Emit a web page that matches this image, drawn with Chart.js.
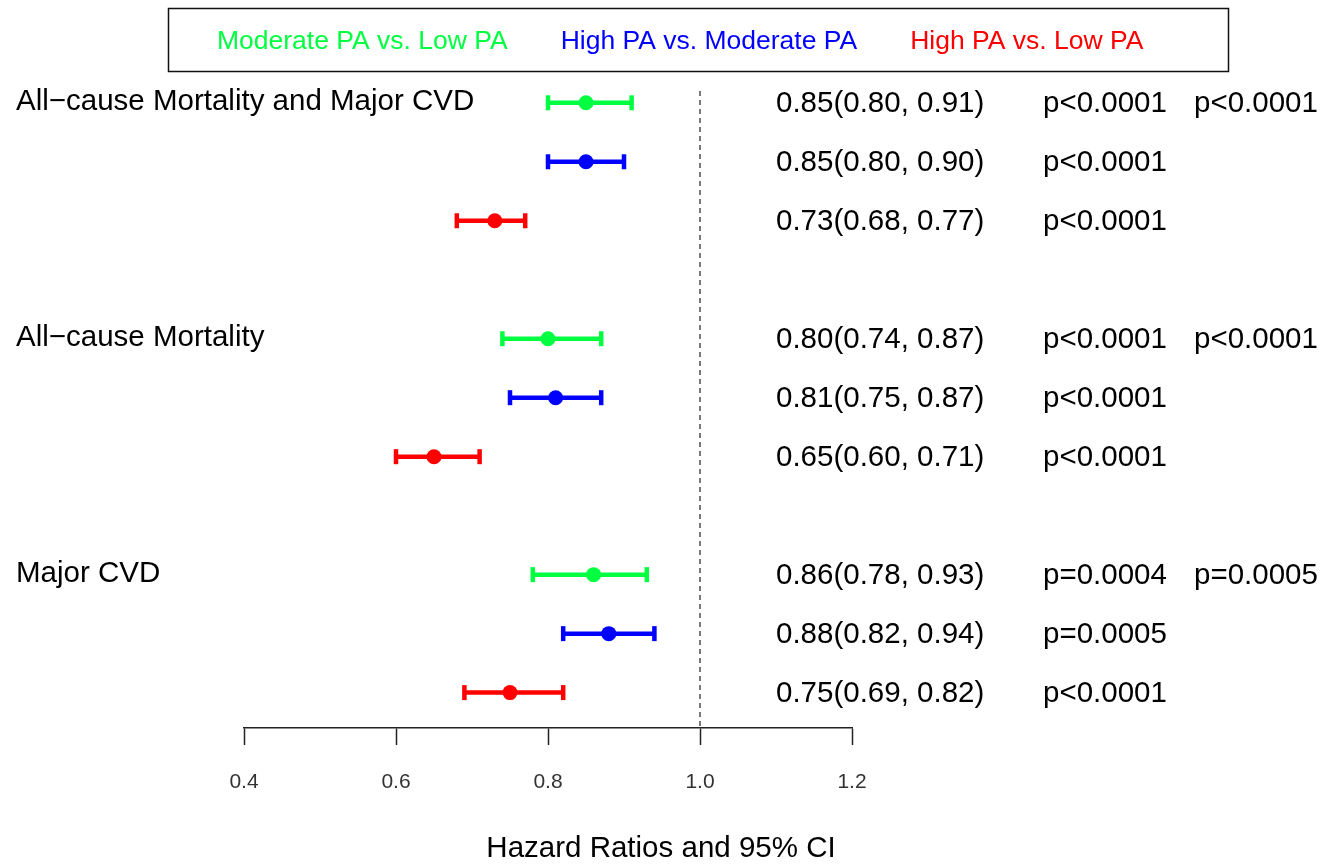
<!DOCTYPE html>
<html>
<head>
<meta charset="utf-8">
<script src="https://cdn.jsdelivr.net/npm/chart.js@4.4.1/dist/chart.umd.min.js"></script>
<style>
  body { margin: 0; background: #fff; }
  #wrap { width: 1323px; height: 864px; position: relative; }
</style>
</head>
<body>
<div id="wrap"><canvas id="forest"></canvas></div>
<script>
const outcomes = ['All\u2212cause Mortality and Major CVD', 'All\u2212cause Mortality', 'Major CVD'];
const comparisons = ['Moderate PA vs. Low PA', 'High PA vs. Moderate PA', 'High PA vs. Low PA'];
const colors = ['#00ff40', '#0000ff', '#ff0000'];

// one entry per row: 3 outcomes x 3 comparisons
const hr    = [0.85, 0.85, 0.73, 0.80, 0.81, 0.65, 0.86, 0.88, 0.75];
const lower = [0.80, 0.80, 0.68, 0.74, 0.75, 0.60, 0.78, 0.82, 0.69];
const upper = [0.91, 0.90, 0.77, 0.87, 0.87, 0.71, 0.93, 0.94, 0.82];
const pValues = ['p<0.0001', 'p<0.0001', 'p<0.0001', 'p<0.0001', 'p<0.0001', 'p<0.0001', 'p=0.0004', 'p=0.0005', 'p<0.0001'];
const trendP = ['p<0.0001', 'p<0.0001', 'p=0.0005'];
const xTicks = [0.4, 0.6, 0.8, 1.0, 1.2];
const refLine = 1.0;

const FONT = '"Liberation Sans", Arial, sans-serif';

// row position: groups separated by one empty row
function rowOf(i) { return Math.floor(i / 3) * 4 + (i % 3); }

const datasets = [];

// dashed reference line
datasets.push({
  type: 'line',
  data: [{ x: refLine, y: -0.2 }, { x: refLine, y: 10.6 }],
  borderColor: '#333',
  borderWidth: 1.3,
  borderDash: [5, 4],
  pointRadius: 0,
  order: 3
});

// confidence intervals with caps
hr.forEach((v, i) => {
  const c = colors[i % 3];
  datasets.push({
    type: 'line',
    data: [{ x: lower[i], y: rowOf(i) }, { x: upper[i], y: rowOf(i) }],
    borderColor: c,
    borderWidth: 4.5,
    pointStyle: 'line',
    rotation: 90,
    pointRadius: 7.5,
    pointBorderWidth: 4.5,
    pointBorderColor: c,
    order: 2
  });
});

// point estimates
comparisons.forEach((name, k) => {
  datasets.push({
    type: 'scatter',
    label: name,
    data: hr.map((v, i) => ({ x: v, y: rowOf(i) })).filter((p, i) => i % 3 === k),
    backgroundColor: colors[k],
    borderWidth: 0,
    pointRadius: 7.5,
    order: 1
  });
});

const textPlugin = {
  id: 'forestText',
  afterDraw(chart) {
    const ctx = chart.ctx;
    const y = chart.scales.y;
    ctx.save();

    // legend box
    ctx.strokeStyle = '#111';
    ctx.lineWidth = 1.5;
    ctx.strokeRect(168.5, 8.5, 1060, 63);
    ctx.font = '26.5px ' + FONT;
    ctx.textBaseline = 'middle';
    ctx.textAlign = 'left';
    let lx = 217;
    comparisons.forEach((name, k) => {
      ctx.fillStyle = colors[k];
      ctx.fillText(name, lx, 42);
      lx += ctx.measureText(name).width + 53;
    });

    // outcome labels, estimates and p-values
    ctx.font = '29.5px ' + FONT;
    ctx.fillStyle = '#000';
    outcomes.forEach((name, g) => {
      const py = y.getPixelForValue(g * 4);
      ctx.fillText(name, 16, py - 1);
      ctx.fillText(trendP[g], 1194, py + 1);
    });
    hr.forEach((v, i) => {
      const py = y.getPixelForValue(rowOf(i)) + 1;
      ctx.fillText(v.toFixed(2) + '(' + lower[i].toFixed(2) + ', ' + upper[i].toFixed(2) + ')', 776, py);
      ctx.fillText(pValues[i], 1043, py);
    });

    // axis title
    ctx.textAlign = 'center';
    ctx.fillText('Hazard Ratios and 95% CI', 661, 849);
    ctx.restore();
  }
};

new Chart(document.getElementById('forest'), {
  type: 'scatter',
  data: { datasets: datasets },
  plugins: [textPlugin],
  options: {
    responsive: true,
    maintainAspectRatio: false,
    animation: false,
    layout: { padding: { top: 91, left: 244, right: 471, bottom: 0 } },
    plugins: { legend: { display: false }, tooltip: { enabled: false } },
    scales: {
      x: {
        type: 'linear',
        min: 0.4,
        max: 1.2,
        afterBuildTicks: (scale) => { scale.ticks = xTicks.map(v => ({ value: v })); },
        afterFit: (scale) => { scale.height = 136; },
        grid: { drawOnChartArea: false, drawTicks: true, tickLength: 17, tickColor: '#222', tickWidth: 1.5 },
        border: { display: true, color: '#222', width: 1.5 },
        ticks: {
          padding: 25,
          color: '#333',
          font: { family: FONT, size: 21 },
          callback: (v) => Number(v).toFixed(1)
        }
      },
      y: {
        type: 'linear',
        reverse: true,
        min: -0.2,
        max: 10.6,
        display: false
      }
    }
  }
});
</script>
</body>
</html>
